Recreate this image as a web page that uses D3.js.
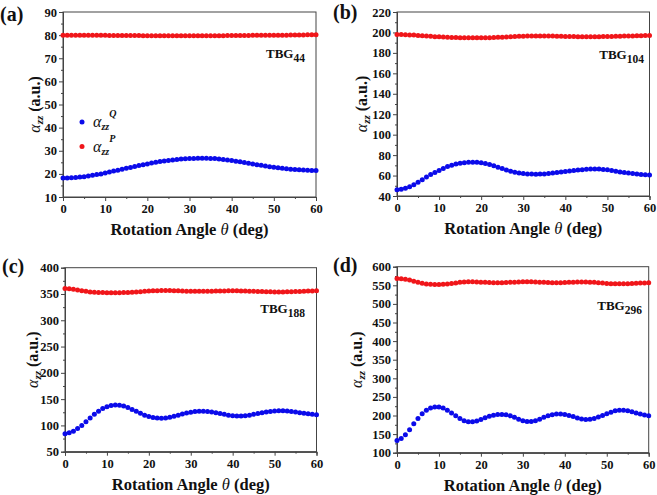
<!DOCTYPE html>
<html><head><meta charset="utf-8">
<script src="https://cdn.jsdelivr.net/npm/d3@7"></script>
<style>body{margin:0;background:#fff}svg{display:block}text{font-family:"Liberation Serif","Times New Roman",serif;font-weight:bold}</style>
</head><body>
<script>
// ---- data ----
const angles = [0,1,2,3,4,5,6,7,8,9,10,11,12,13,14,15,16,17,18,19,20,21,22,23,24,25,26,27,28,29,30,31,32,33,34,35,36,37,38,39,40,41,42,43,44,45,46,47,48,49,50,51,52,53,54,55,56,57,58,59,60];

const tbg44Q = [18.2,18.2,18.3,18.4,18.6,18.8,19.1,19.4,19.7,20.0,20.4,20.8,21.2,21.6,22.0,22.4,22.8,23.2,23.6,24.0,24.3,24.7,25.0,25.3,25.6,25.8,26.0,26.2,26.4,26.5,26.6,26.7,26.8,26.8,26.8,26.7,26.6,26.4,26.2,26.0,25.8,25.5,25.2,24.9,24.6,24.3,24.0,23.7,23.4,23.1,22.9,22.6,22.4,22.2,22.0,21.9,21.8,21.7,21.6,21.5,21.5];
const tbg44P = [80.0,80.0,80.0,80.0,80.0,79.9,79.9,79.9,79.9,79.9,79.9,79.8,79.8,79.8,79.8,79.8,79.8,79.8,79.8,79.7,79.7,79.7,79.7,79.7,79.7,79.7,79.7,79.7,79.7,79.7,79.7,79.7,79.7,79.7,79.7,79.7,79.7,79.7,79.7,79.8,79.8,79.8,79.8,79.8,79.8,79.9,79.9,79.9,79.9,79.9,80.0,80.0,80.0,80.0,80.1,80.1,80.1,80.1,80.2,80.2,80.2];

const tbg104Q = [46.0,46.5,47.5,49.0,51.0,53.5,56.0,58.5,61.0,63.0,65.0,67.0,68.8,70.0,71.2,72.0,72.5,72.9,73.0,72.9,72.5,71.8,70.8,69.6,68.2,66.8,65.5,64.3,63.3,62.5,62.0,61.6,61.4,61.3,61.4,61.6,62.0,62.4,62.9,63.4,63.9,64.4,64.9,65.4,65.8,66.1,66.3,66.4,66.3,66.0,65.6,65.0,64.3,63.6,63.0,62.4,61.9,61.5,61.1,60.8,60.6];
const tbg104P = [198.0,197.9,197.8,197.6,197.4,197.1,196.8,196.5,196.2,195.9,195.7,195.5,195.3,195.1,195.0,194.9,194.8,194.8,194.7,194.7,194.7,194.8,194.9,195.0,195.2,195.4,195.6,195.8,196.0,196.2,196.3,196.4,196.5,196.5,196.5,196.5,196.4,196.4,196.3,196.2,196.1,196.0,196.0,195.9,195.9,195.9,195.9,195.9,195.9,196.0,196.0,196.1,196.2,196.3,196.4,196.5,196.6,196.7,196.8,196.9,197.0];

const tbg188Q = [84,86,89,94,100,107,114,121,127,132,135.5,138,139,138.5,137,134,130.5,127,123,119.5,117,115,114,113.5,114,115.5,117.5,119.5,121.5,123.5,125,126.5,127,127,126.5,125.5,124,122.5,121,119.5,118.5,118,118,118.5,119.5,121,122.5,124,125.5,126.5,127.5,128,128,127.5,126.5,125.5,124,123,122,121,120.5];
const tbg188P = [360.5,360,359,357.5,356,355,354,353.5,353,352.7,352.5,352.5,352.5,352.5,352.6,352.8,353.2,353.7,354.3,355,355.5,356,356.3,356.5,356.5,356.4,356.2,356,355.7,355.4,355.2,355,355,355,355.1,355.3,355.5,355.7,355.9,356,356,356,355.9,355.7,355.4,355.1,354.8,354.5,354.3,354.1,354,354,354,354.1,354.3,354.6,354.9,355.2,355.5,355.8,356];

const tbg296Q = [133,138,148,162,178,192,205,214,220,223,223,220,214,207,199,192,186,183,183,185,189,194,198,201,202.5,203,202,199,195,190,186,184,184,186,190,195,199,202,204,204,203,200,197,193,190.5,189.5,190,192,196,200,205,209,212.5,214,214,212.5,210,207,204,201.5,199.5];
const tbg296P = [568,567.5,566,564,561,558,555.5,553.5,552.5,552,552,552.5,553.5,555,556.5,558,559,559.5,559.5,559,558.5,558,557.5,557,557,557,557.5,558,558.5,559,559.5,559.5,559.5,559,558.5,558,557.5,557,557,557,557.5,558,558.5,559,559,559,558.5,558,557,556,555,554.5,554,554,554,554.5,555,555.5,556,556.5,557];

const panels = [
  {tag:"(a)", sub:"44", q:tbg44Q, p:tbg44P, yDomain:[10,90], yTicks:[10,20,30,40,50,60,70,80,90], yMinor:[15,25,35,45,55,65,75,85],
   box:{l:63,r:316,t:12,b:197}, tagPos:[0,21], tbgPos:[305,58], ylabX:40, legend:true},
  {tag:"(b)", sub:"104", q:tbg104Q, p:tbg104P, yDomain:[40,220], yTicks:[40,60,80,100,120,140,160,180,200,220], yMinor:[50,70,90,110,130,150,170,190,210],
   box:{l:397,r:649.5,t:12,b:196}, tagPos:[333,19], tbgPos:[644,59], ylabX:367},
  {tag:"(c)", sub:"188", q:tbg188Q, p:tbg188P, yDomain:[50,400], yTicks:[50,100,150,200,250,300,350,400], yMinor:[75,125,175,225,275,325,375],
   box:{l:65,r:316.5,t:267.7,b:451.7}, tagPos:[2,273], tbgPos:[305,313], ylabX:38},
  {tag:"(d)", sub:"296", q:tbg296Q, p:tbg296P, yDomain:[100,600], yTicks:[100,150,200,250,300,350,400,450,500,550,600], yMinor:[125,175,225,275,325,375,425,475,525,575],
   box:{l:397,r:648.7,t:266.7,b:452.7}, tagPos:[333,272], tbgPos:[642,310], ylabX:362}
];
const xTicks = [0,10,20,30,40,50,60];
const xMinor = [5,15,25,35,45,55];
const blue = "#0b0bea", red = "#f0161a";

const svg = d3.select("body").append("svg").attr("width",657).attr("height",495);

panels.forEach(P => {
  const B = P.box;
  const x = d3.scaleLinear().domain([0,60]).range([B.l,B.r]);
  const y = d3.scaleLinear().domain(P.yDomain).range([B.b,B.t]);
  const g = svg.append("g");

  g.append("rect").attr("x",B.l).attr("y",B.t).attr("width",B.r-B.l).attr("height",B.b-B.t)
    .attr("fill","none").attr("stroke","#444").attr("stroke-width",1);

  g.append("g").attr("transform",`translate(0,${B.b})`)
    .call(d3.axisBottom(x).tickValues(xTicks).tickSize(4).tickPadding(3).tickFormat(d3.format("d")));
  g.append("g").attr("transform",`translate(0,${B.b})`)
    .call(d3.axisBottom(x).tickValues(xMinor).tickSize(2).tickFormat(""));
  g.append("g").attr("transform",`translate(${B.l},0)`)
    .call(d3.axisLeft(y).tickValues(P.yTicks).tickSize(4).tickPadding(2).tickFormat(d3.format("d")));
  g.append("g").attr("transform",`translate(${B.l},0)`)
    .call(d3.axisLeft(y).tickValues(P.yMinor).tickSize(2).tickFormat(""));
  g.selectAll(".domain").attr("stroke","#444");
  g.selectAll(".tick line").attr("stroke","#444");
  g.selectAll(".tick text").attr("font-family","Liberation Serif").attr("font-weight","bold").attr("font-size",12.5).attr("fill","#111");

  g.append("g").selectAll("circle").data(angles).join("circle")
    .attr("cx",(d)=>x(d)).attr("cy",(d,i)=>y(P.p[i])).attr("r",2.5).attr("fill",red);
  g.append("g").selectAll("circle").data(angles).join("circle")
    .attr("cx",(d)=>x(d)).attr("cy",(d,i)=>y(P.q[i])).attr("r",2.5).attr("fill",blue);

  const xl = g.append("text").attr("x",(B.l+B.r)/2).attr("y",B.b+38).attr("text-anchor","middle")
    .attr("font-size",16.5).attr("fill","#111");
  xl.append("tspan").text("Rotation Angle ");
  xl.append("tspan").attr("font-style","italic").attr("font-weight","normal").text("θ");
  xl.append("tspan").text("  (deg)");

  const yl = g.append("text").attr("transform",`translate(${P.ylabX},${(B.t+B.b)/2}) rotate(-90)`)
    .attr("text-anchor","middle").attr("font-size",16).attr("fill","#111");
  yl.append("tspan").attr("font-style","italic").attr("font-weight","normal").text("α");
  yl.append("tspan").attr("font-style","italic").attr("font-size",11).attr("dy",3).text("zz");
  yl.append("tspan").attr("dy",-3).text(" (a.u.)");

  g.append("text").attr("x",P.tagPos[0]).attr("y",P.tagPos[1]).attr("font-size",20).attr("fill","#111").text(P.tag);

  const t = g.append("text").attr("x",P.tbgPos[0]).attr("y",P.tbgPos[1]).attr("text-anchor","end")
    .attr("font-size",13).attr("fill","#111");
  t.append("tspan").text("TBG");
  t.append("tspan").attr("font-size",11.5).attr("dy",4).text(P.sub);

  if (P.legend) {
    const items = [{c:blue, s:"Q", y:122},{c:red, s:"P", y:146.5}];
    items.forEach(it => {
      g.append("circle").attr("cx",82).attr("cy",it.y).attr("r",2.5).attr("fill",it.c);
      const lt = g.append("text").attr("x",93).attr("y",it.y+5).attr("font-size",16).attr("fill","#111");
      lt.append("tspan").attr("font-style","italic").attr("font-weight","normal").text("α");
      lt.append("tspan").attr("font-style","italic").attr("font-size",10).attr("dy",3).text("zz");
      lt.append("tspan").attr("font-style","italic").attr("font-size",10).attr("dy",-13).text(it.s);
    });
  }
});
</script>
</body></html>
